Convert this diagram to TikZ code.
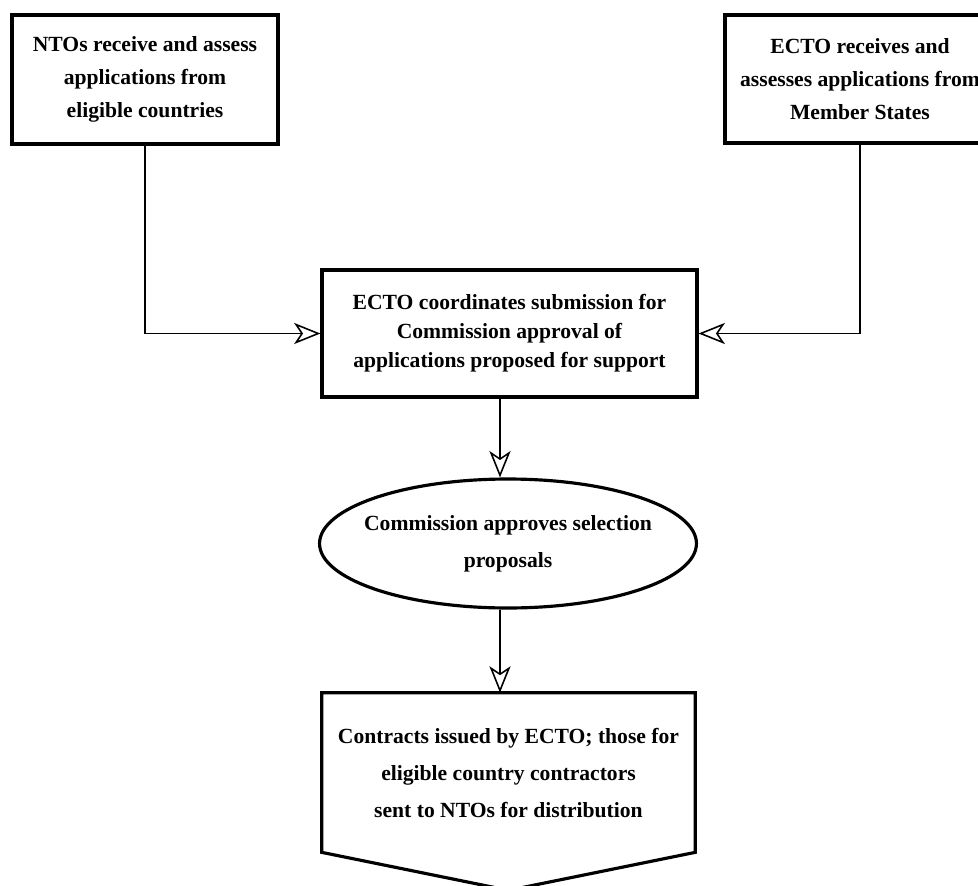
\documentclass[tikz,border=0pt]{standalone}
\usepackage{fontspec}
\setmainfont{Liberation Serif}
\usetikzlibrary{positioning, shapes.geometric, arrows.meta, calc}

\begin{document}
\begin{tikzpicture}[x=0.02cm, y=-0.02cm,
    font=\bfseries\fontsize{12.3}{19}\selectfont,
    stage/.style={draw, line width=1.8pt, align=center, inner sep=0pt},
    flow/.style={-{Stealth[open, length=15pt, width=12pt, inset=4pt]}, line width=0.9pt}]
  \useasboundingbox (0,0) rectangle (978,886);
  \node[stage, minimum width=5.32cm, minimum height=2.58cm] (nto) at (145,79.5)
    {NTOs receive and assess\\applications from\\eligible countries};
  \node[stage, minimum width=5.4cm, minimum height=2.56cm] (ecto) at (860,79)
    {ECTO receives and\\assesses applications from\\Member States};
  \node[stage, minimum width=7.5cm, minimum height=2.54cm,
        font=\bfseries\fontsize{12.3}{16.5}\selectfont] (coord) at (509.5,333.5)
    {ECTO coordinates submission for\\Commission approval of\\applications proposed for support};
  \node[stage, ellipse, inner xsep=-0.4cm, minimum width=7.54cm, minimum height=2.58cm,
        font=\bfseries\fontsize{12.3}{21}\selectfont] (appr) at (508,543.5)
    {Commission approves selection\\proposals};
  \node[align=center, inner sep=0pt, minimum width=7.46cm, minimum height=3.18cm,
        text depth=-8pt, font=\bfseries\fontsize{12.3}{21}\selectfont] (ctr) at (508.5,772.5)
    {Contracts issued by ECTO; those for\\eligible country contractors\\sent to NTOs for distribution};
  \draw[line width=1.8pt] (ctr.north west) -- (ctr.north east) -- (ctr.south east)
    -- ($(ctr.south)+(0,38)$) -- (ctr.south west) -- cycle;
  \coordinate (axis) at (500,0);
  \draw[flow] (nto.south) |- (coord.west);
  \draw[flow] (ecto.south) |- (coord.east);
  \draw[flow] (coord.south -| axis) -- (appr.north -| axis);
  \draw[flow] (appr.south -| axis) -- (ctr.north -| axis);
\end{tikzpicture}
\end{document}
